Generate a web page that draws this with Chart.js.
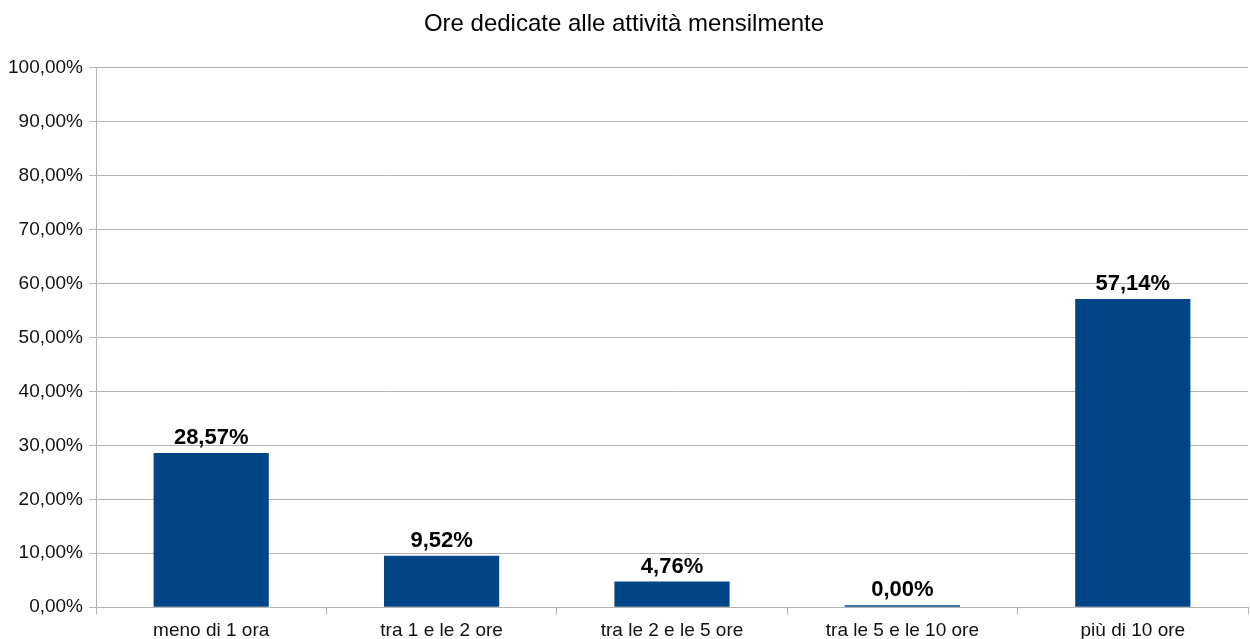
<!DOCTYPE html>
<html>
<head>
<meta charset="utf-8">
<script src="https://cdn.jsdelivr.net/npm/chart.js@4"></script>
<style>
  html, body { margin: 0; padding: 0; background: #fff; }
  #wrap { width: 1250px; height: 639px; }
</style>
</head>
<body>
<div id="wrap"><canvas id="grafico" width="1250" height="639"></canvas></div>
<script>
"use strict";
const categorie = ['meno di 1 ora', 'tra 1 e le 2 ore', 'tra le 2 e le 5 ore', 'tra le 5 e le 10 ore', 'più di 10 ore'];
const percentuali = [28.57, 9.52, 4.76, 0.00, 57.14];
const titolo = 'Ore dedicate alle attività mensilmente';

const fmt = (v) => v.toFixed(2).replace('.', ',') + '%';

// etichette sopra le barre
const etichette = {
    id: 'etichette',
    afterDatasetsDraw(chart) {
        const ctx = chart.ctx;
        const meta = chart.getDatasetMeta(0);
        ctx.save();
        ctx.font = 'bold 22px "Liberation Sans", Arial, sans-serif';
        ctx.fillStyle = '#000';
        ctx.textAlign = 'center';
        ctx.textBaseline = 'bottom';
        meta.data.forEach((bar, i) => {
            ctx.fillText(fmt(percentuali[i]), bar.x, bar.y - 4);
        });
        ctx.restore();
    }
};

const ctx = document.getElementById('grafico').getContext('2d');
const myChart = new Chart(ctx, {
    type: 'bar',
    data: {
        labels: categorie,
        datasets: [{
            data: percentuali,
            backgroundColor: '#004586',
            borderWidth: 0,
            minBarLength: 2,
            categoryPercentage: 1.0,
            barPercentage: 0.5
        }]
    },
    options: {
        responsive: false,
        animation: false,
        layout: { padding: { left: 0, right: 2, top: 0, bottom: -8 } },
        plugins: {
            legend: { display: false },
            tooltip: { enabled: false },
            title: {
                display: true,
                text: titolo,
                color: '#000',
                font: { family: '"Liberation Sans", Arial, sans-serif', size: 24, weight: 'normal' },
                padding: { top: 10, bottom: 29 }
            }
        },
        scales: {
            x: {
                offset: true,
                grid: { display: true, drawOnChartArea: false, offset: true, color: '#b3b3b3', tickLength: 7 },
                border: { color: '#b3b3b3' },
                ticks: {
                    color: '#111',
                    padding: 5,
                    maxRotation: 0,
                    font: { family: '"Liberation Sans", Arial, sans-serif', size: 19 }
                }
            },
            y: {
                min: 0,
                max: 100,
                afterFit: (s) => { s.width = 96; },
                grid: { color: '#b3b3b3', tickLength: 7 },
                border: { color: '#b3b3b3' },
                ticks: {
                    stepSize: 10,
                    color: '#111',
                    padding: 6,
                    font: { family: '"Liberation Sans", Arial, sans-serif', size: 19 },
                    callback: (v) => fmt(v)
                }
            }
        }
    },
    plugins: [etichette]
});
</script>
</body>
</html>
